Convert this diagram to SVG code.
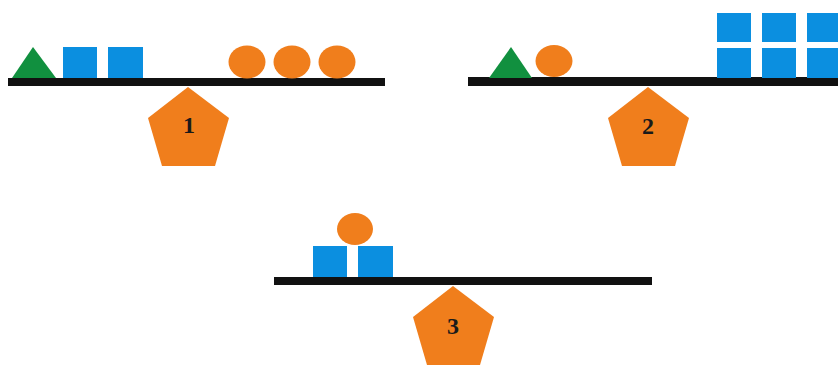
<svg xmlns="http://www.w3.org/2000/svg" width="838" height="365" viewBox="0 0 838 365">
<defs>
<style>
.beam{fill:#111111}
.tri{fill:#11903f}
.sq{fill:#0b8fe0}
.ball{fill:#f07e1c}
.ped{fill:#f07e1c}
.lbl{font-family:"Liberation Serif","Times New Roman",serif;font-weight:bold;font-size:24px;fill:#1a1a1a;text-anchor:middle}
</style>
<polygon id="pent" points="0,0 41,31 27,79 -26,79 -40,31"/>
</defs>
<rect width="838" height="365" fill="#ffffff"/>
<g id="scale1">
<rect class="beam" x="8" y="78" width="377" height="8"/>
<polygon class="tri" points="12,78 33,47 56,78"/>
<rect class="sq" x="63" y="47" width="34" height="31"/>
<rect class="sq" x="108" y="47" width="35" height="31"/>
<ellipse class="ball" cx="247" cy="62" rx="18.5" ry="16.5"/>
<ellipse class="ball" cx="292" cy="62" rx="18.5" ry="16.5"/>
<ellipse class="ball" cx="337" cy="62" rx="18.5" ry="16.5"/>
<use href="#pent" class="ped" x="188" y="87"/>
<text class="lbl" x="189" y="133">1</text>
</g>
<g id="scale2">
<rect class="beam" x="468" y="77" width="372" height="9"/>
<polygon class="tri" points="489,78 511,47 532,78"/>
<ellipse class="ball" cx="554" cy="61" rx="18.5" ry="16"/>
<rect class="sq" x="717" y="13" width="34" height="29"/>
<rect class="sq" x="762" y="13" width="34" height="29"/>
<rect class="sq" x="807" y="13" width="34" height="29"/>
<rect class="sq" x="717" y="48" width="34" height="30"/>
<rect class="sq" x="762" y="48" width="34" height="30"/>
<rect class="sq" x="807" y="48" width="34" height="30"/>
<use href="#pent" class="ped" x="648" y="87"/>
<text class="lbl" x="648" y="134">2</text>
</g>
<g id="scale3">
<rect class="beam" x="274" y="277" width="378" height="8"/>
<rect class="sq" x="313" y="246" width="34" height="31"/>
<rect class="sq" x="358" y="246" width="35" height="31"/>
<ellipse class="ball" cx="355" cy="229" rx="18" ry="16"/>
<use href="#pent" class="ped" x="453" y="286"/>
<text class="lbl" x="453" y="334">3</text>
</g>
</svg>
